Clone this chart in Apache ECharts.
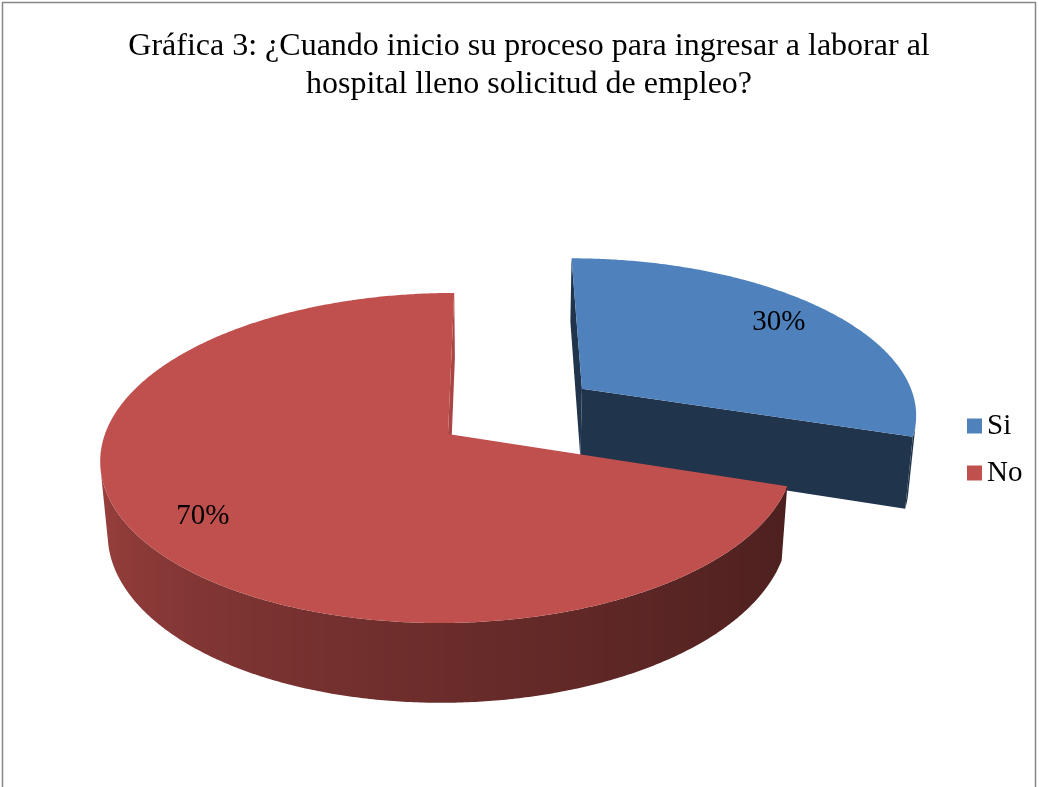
<!DOCTYPE html>
<html>
<head>
<meta charset="utf-8">
<script src="https://cdn.jsdelivr.net/npm/echarts@6/dist/echarts.min.js"></script>
<style>
  html, body { margin: 0; padding: 0; background: #ffffff; }
  #chart { width: 1039px; height: 787px; }
</style>
</head>
<body>
<div id="chart"></div>
<script>
// ---- data ----
const categories = ['Si', 'No'];
const percentages = [30, 70];
const titleLines = [
  'Gráfica 3: ¿Cuando inicio su proceso para ingresar a laborar al',
  'hospital lleno solicitud de empleo?'
];
const explodedSlice = 'Si';

// ---- styles ----
const sliceColors = ['#4F81BD', '#C0504D'];
const serif = '"Liberation Serif", "Times New Roman", "DejaVu Serif", serif';

// ---- perspective camera and pie body ----
const cam = { cx: 497, cy: 434, dist: 2083, tilt: 28.1 * Math.PI / 180 };
const pie = { pivotX: -49, radius: 343, depth: 83, explode: 170, labelRadius: 0.81 };
const RAD = Math.PI / 180;
const sinA = Math.sin(cam.tilt), cosA = Math.cos(cam.tilt);
const camPos = [0, -cam.dist * sinA, cam.dist * cosA];

// world: X right, Y down (thickness), Z toward the viewer
function project(X, Y, Z) {
  const v = Y * cosA + Z * sinA;
  const w = cam.dist - Z * cosA + Y * sinA;
  const s = cam.dist / w;
  return [cam.cx + X * s, cam.cy + v * s];
}

function shade(hex, f) {
  const n = parseInt(hex.slice(1), 16);
  const r = (n >> 16) & 255, g = (n >> 8) & 255, b = n & 255;
  return 'rgb(' + Math.round(r * f) + ',' + Math.round(g * f) + ',' + Math.round(b * f) + ')';
}
function norm360(a) { return ((a % 360) + 360) % 360; }
// curved rim: lit from the front-left, darkening toward the right
function wallShade(n) {
  n = norm360(n);
  if (n > 270) return 0.85;
  if (n < 108) return 0.40;
  return 0.40 + 0.45 * Math.pow((n - 108) / 162, 1.3);
}
// flat cut faces: bright only when turned to the right
function cutShade(n) {
  return 0.40 + 0.48 * Math.max(0, Math.sin(norm360(n) * RAD));
}

const total = percentages.reduce((a, b) => a + b, 0);
const offsets = [];
percentages.reduce((acc, v, i) => { offsets[i] = acc; return acc + v; }, 0);

function sliceCenter(i) {
  const start = offsets[i] / total * 360;
  const mid = (start + percentages[i] / total * 180) * RAD;
  const e = categories[i] === explodedSlice ? pie.explode : 0;
  return [pie.pivotX + e * Math.sin(mid), -e * Math.cos(mid)];
}

function facesCamera(point, normal) {
  const tc = [camPos[0] - point[0], camPos[1] - point[1], camPos[2] - point[2]];
  return normal[0] * tc[0] + normal[1] * tc[1] + normal[2] * tc[2] > 0;
}

function makeRenderer(i) {
  const color = sliceColors[i];
  return function (params, api) {
    const value = api.value(0);
    const span = value / total * 360;
    const start = offsets[i] / total * 360;
    const end = start + span;
    const midDeg = (start + end) / 2;
    const [ox, oz] = sliceCenter(i);
    const R = pie.radius, H = pie.depth;
    const rim = (deg, y, r) => {
      const t = deg * RAD, rr = r === undefined ? R : r;
      return [ox + rr * Math.sin(t), y, oz - rr * Math.cos(t)];
    };
    const P = p => project(p[0], p[1], p[2]);

    const faces = [];

    // curved rim: contiguous visible runs become one shaded polygon each
    const steps = Math.max(2, Math.ceil(span * 2));
    let run = null;
    const runs = [];
    for (let k = 0; k <= steps; k++) {
      const a = start + span * k / steps;
      const mid = rim(a, H / 2);
      const vis = facesCamera(mid, [Math.sin(a * RAD), 0, -Math.cos(a * RAD)]);
      if (vis) {
        if (!run) { run = []; runs.push(run); }
        run.push(a);
      } else {
        run = null;
      }
    }
    runs.forEach(angles => {
      if (angles.length < 2) return;
      const topPts = angles.map(a => P(rim(a, 0)));
      const botPts = angles.map(a => P(rim(a, H)));
      const xs = topPts.map(p => p[0]);
      const x0 = Math.min.apply(null, xs), x1 = Math.max.apply(null, xs);
      const stops = angles.map((a, k) => ({
        offset: Math.min(1, Math.max(0, (topPts[k][0] - x0) / Math.max(1, x1 - x0))),
        color: shade(color, wallShade(a))
      })).sort((p, q) => p.offset - q.offset);
      const c = rim(angles[Math.floor(angles.length / 2)], H / 2);
      faces.push({
        d: Math.hypot(camPos[0] - c[0], camPos[1] - c[1], camPos[2] - c[2]),
        pts: topPts.concat(botPts.reverse()),
        fill: new echarts.graphic.LinearGradient(x0, 0, x1, 0, stops, true)
      });
    });

    // radial cut faces
    const c0 = [ox, 0, oz], c1 = [ox, H, oz];
    function addCut(deg, nDeg) {
      const n = [Math.sin(nDeg * RAD), 0, -Math.cos(nDeg * RAD)];
      const e0 = rim(deg, 0), e1 = rim(deg, H);
      const c = [(ox + e0[0]) / 2, H / 2, (oz + e0[2]) / 2];
      if (!facesCamera(c, n)) return;
      faces.push({
        d: Math.hypot(camPos[0] - c[0], camPos[1] - c[1], camPos[2] - c[2]),
        pts: [P(c0), P(e0), P(e1), P(c1)],
        fill: shade(color, cutShade(nDeg))
      });
    }
    addCut(start, start - 90);
    addCut(end, end + 90);

    faces.sort((a, b) => b.d - a.d);
    const children = faces.map(f => ({
      type: 'polygon',
      shape: { points: f.pts },
      style: { fill: f.fill }
    }));

    // top face
    const top = [P(c0)];
    const tSteps = Math.max(4, Math.ceil(span * 2));
    for (let k = 0; k <= tSteps; k++) top.push(P(rim(start + span * k / tSteps, 0)));
    children.push({ type: 'polygon', shape: { points: top }, style: { fill: color } });

    // percentage label
    const lp = P(rim(midDeg, 0, R * pie.labelRadius));
    children.push({
      type: 'text', x: lp[0], y: lp[1],
      style: {
        text: Math.round(value / total * 100) + '%',
        fill: '#000000', font: '29px ' + serif,
        align: 'center', verticalAlign: 'middle'
      }
    });
    return { type: 'group', children: children };
  };
}

// farther slices first
const depthRank = categories.map((c, i) => i).sort((a, b) => sliceCenter(a)[1] - sliceCenter(b)[1]);

const chart = echarts.init(document.getElementById('chart'), null, { renderer: 'canvas' });
chart.setOption({
  backgroundColor: '#ffffff',
  animation: false,
  graphic: [
    { type: 'rect', shape: { x: 2.5, y: 2.5, width: 1033, height: 820 },
      style: { fill: 'none', stroke: '#868686', lineWidth: 1.5 }, silent: true },
    { type: 'text', x: 529, y: 47, style: { text: titleLines[0], font: '32px ' + serif, fill: '#000',
      align: 'center', verticalAlign: 'middle' } },
    { type: 'text', x: 529, y: 85, style: { text: titleLines[1], font: '32px ' + serif, fill: '#000',
      align: 'center', verticalAlign: 'middle' } }
  ],
  legend: {
    data: categories,
    orient: 'vertical',
    left: 962,
    top: 405,
    icon: 'rect',
    itemWidth: 15,
    itemHeight: 15,
    itemGap: 15,
    selectedMode: false,
    textStyle: { fontFamily: serif, fontSize: 29, color: '#000', lineHeight: 32 }
  },
  series: categories.map((name, i) => ({
    type: 'custom',
    name: name,
    coordinateSystem: 'none',
    z: 2 + depthRank.indexOf(i),
    silent: true,
    itemStyle: { color: sliceColors[i] },
    data: [{ name: name, value: [percentages[i]] }],
    renderItem: makeRenderer(i)
  }))
});
</script>
</body>
</html>
